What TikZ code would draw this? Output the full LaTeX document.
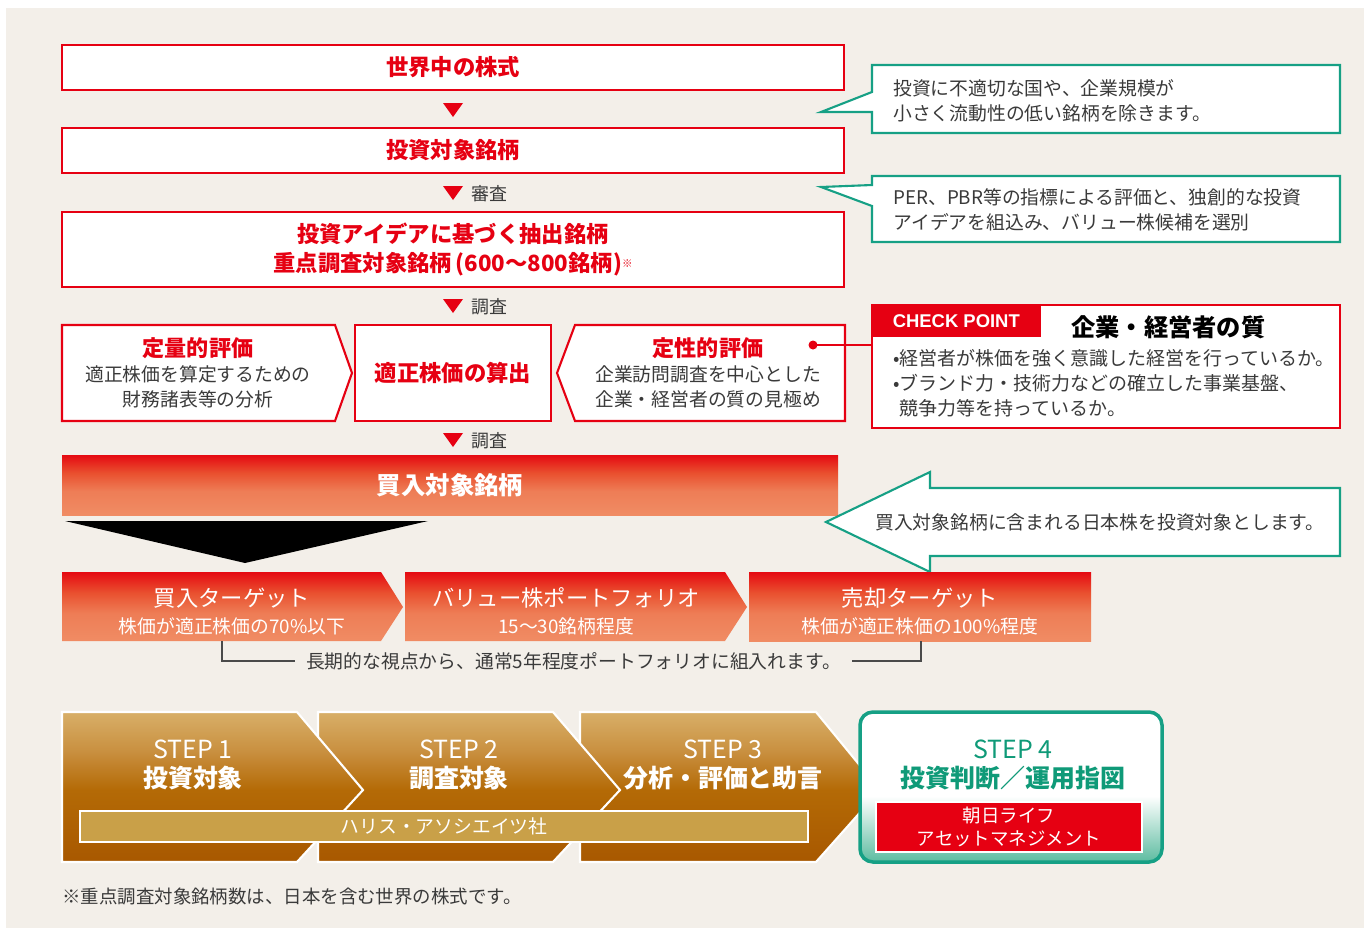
\documentclass[tikz,border=0pt]{standalone}
\usepackage{fontspec}
\setmainfont{Noto Sans CJK JP}
\newfontfamily\checkfont{Liberation Sans}
\usetikzlibrary{positioning}

\definecolor{rouge}{HTML}{E60012}
\definecolor{vert}{HTML}{16A085}
\definecolor{vertfonce}{HTML}{0F9A78}
\definecolor{fond}{HTML}{F3EFE9}
\definecolor{texte}{HTML}{3A3A3A}
\definecolor{gris}{HTML}{4A4A4A}
\definecolor{bande}{HTML}{C9A048}
\definecolor{rougeA}{HTML}{E50A12}
\definecolor{rougeB}{HTML}{E9502F}
\definecolor{rougeC}{HTML}{EE7D56}
\definecolor{rougeD}{HTML}{F08C64}
\definecolor{orA}{HTML}{D8AF68}
\definecolor{orB}{HTML}{C99040}
\definecolor{orC}{HTML}{B46A06}
\definecolor{orD}{HTML}{A85800}
\definecolor{vertbas}{HTML}{5CBCA0}

\pgfdeclareverticalshading{rougegrad}{100bp}{color(0bp)=(rougeD); color(25bp)=(rougeD);
  color(45bp)=(rougeC); color(60bp)=(rougeB); color(75bp)=(rougeA); color(100bp)=(rougeA)}
\pgfdeclareverticalshading{stepgold}{100bp}{color(0bp)=(orD); color(25bp)=(orD);
  color(49bp)=(orC); color(62bp)=(orB); color(75bp)=(orA); color(100bp)=(orA)}
\pgfdeclareverticalshading{vertgrad}{100bp}{color(0bp)=(vertbas); color(25bp)=(vertbas);
  color(47bp)=(white); color(100bp)=(white)}

\newcommand\pxu{0.02cm}

\begin{document}
\begin{tikzpicture}[x=0.02cm, y=-0.02cm,
    cadre/.style={draw=rouge, fill=white, line width=1.2pt, inner sep=0pt},
    titre/.style={text=rouge, font=\bfseries\fontsize{12.7}{17}\selectfont},
    corps/.style={text=texte, font=\fontsize{10.7}{14.2}\selectfont, align=left, inner sep=0pt},
    centre/.style={text=texte, font=\fontsize{10.7}{14.2}\selectfont, align=center, inner sep=0pt},
    bulle/.style={draw=vert, fill=white, line width=1.2pt},
    blanc/.style={text=white, align=center, inner sep=0pt},
    etape/.style={shading=stepgold, draw=white, line width=1.2pt},
    etiquette/.style={text=texte, font=\fontsize{10.2}{12}\selectfont, anchor=west, inner sep=0pt}]

  % Fond
  \useasboundingbox (0,0) rectangle (1370,930);
  \fill[white] (0,0) rectangle (1370,930);
  \fill[fond] (6,8) rectangle (1364,928);

  % Sélection des valeurs
  \node[cadre, titre, minimum width=782*\pxu, minimum height=45*\pxu] (monde) at (453,67.5) {世界中の株式};
  \node[cadre, titre, minimum width=782*\pxu, minimum height=45*\pxu] (invest) at (453,150.5) {投資対象銘柄};
  \node[cadre, titre, align=center, minimum width=782*\pxu, minimum height=75*\pxu] (idee) at (453,249.5)
    {投資アイデアに基づく抽出銘柄\\重点調査対象銘柄\,(600〜800銘柄){\fontsize{6}{6}\selectfont\raisebox{0.8ex}{※}}};

  % Triangles et étiquettes
  \foreach \y in {110,193,306,440}
    \fill[rouge] (453,\y) ++(-10,-7) -- ++(20,0) -- ++(-10,14) -- cycle;
  \node[etiquette] (examen) at (471,194) {審査};
  \node[etiquette] (enquete) at (471,307) {調査};
  \node[etiquette] (enquete2) at (471,441) {調査};

  % Évaluations
  \draw[cadre] (62,325) -- (335,325) -- (352,373) -- (335,421) -- (62,421) -- cycle;
  \node[centre] (quanti) at (198,373)
    {{\color{rouge}\bfseries\fontsize{12.6}{14.2}\selectfont 定量的評価}\\適正株価を算定するための\\財務諸表等の分析};
  \node[cadre, titre, minimum width=196*\pxu, minimum height=96*\pxu] (prix) at (453,373) {適正株価の算出};
  \draw[cadre] (845,325) -- (575,325) -- (557,373) -- (575,421) -- (845,421) -- cycle;
  \node[centre] (quali) at (708,373)
    {{\color{rouge}\bfseries\fontsize{12.6}{14.2}\selectfont 定性的評価}\\企業訪問調査を中心とした\\企業・経営者の質の見極め};

  % Bulles
  \draw[bulle] (872,65) -- (1340,65) -- (1340,133) -- (872,133) -- (872,112) -- (821,112) -- (872,92) -- cycle;
  \node[corps, anchor=west] (exclu) at (893,100.5) {投資に不適切な国や、企業規模が\\小さく流動性の低い銘柄を除きます。};
  \draw[bulle] (872,176) -- (1340,176) -- (1340,242) -- (872,242) -- (872,206) -- (821,187) -- (872,185) -- cycle;
  \node[corps, anchor=west] (valeur) at (893,210) {PER、PBR等の指標による評価と、独創的な投資\\アイデアを組込み、バリュー株候補を選別};

  % Check point
  \node[draw=rouge, fill=white, line width=1.2pt, inner sep=0pt,
        minimum width=468*\pxu, minimum height=123*\pxu] (check) at (1106,366.5) {};
  \node[fill=rouge, text=white, inner sep=0pt, anchor=north west, minimum width=170*\pxu, minimum height=33*\pxu,
        font=\checkfont\bfseries\fontsize{10.5}{12}\selectfont] (cp) at (check.north west) {CHECK POINT};
  \node[font=\bfseries\fontsize{13.8}{16}\selectfont, anchor=west, inner sep=0pt] (qualite) at (1071,327) {企業・経営者の質};
  \node[corps, anchor=west, font=\fontsize{10.8}{14.2}\selectfont] (liste) at (893,383)
    {•経営者が株価を強く意識した経営を行っているか。\\•ブランド力・技術力などの確立した事業基盤、\\\phantom{•}競争力等を持っているか。};
  \coordinate (point) at (813,345);
  \draw[rouge, line width=1.2pt] (point) -- (point -| check.west);
  \fill[rouge] (point) circle (4.5);

  % Valeurs retenues
  \node[shade, shading=rougegrad, inner sep=0pt, minimum width=776*\pxu, minimum height=60*\pxu,
        text=white, font=\bfseries\fontsize{13.9}{16}\selectfont] (achat) at (450,485) {買入対象銘柄};
  \fill[black] (65,521) -- (428,521) -- (245,563) -- cycle;
  \draw[bulle] (1340,488) -- (1340,556) -- (930,556) -- (930,572) -- (826,522) -- (930,472) -- (930,488) -- cycle;
  \node[corps, anchor=west] (japon) at (875,522) {買入対象銘柄に含まれる日本株を投資対象とします。};

  % Portefeuille
  \shade[shading=rougegrad] (62,572) -- (381,572) -- (403,607) -- (381,641) -- (62,641) -- cycle;
  \shade[shading=rougegrad] (405,572) -- (725,572) -- (747,607) -- (725,641) -- (405,641) -- cycle;
  \shade[shading=rougegrad] (749,572) rectangle (1091,641);
  \node[blanc, font=\fontsize{10.7}{15.3}\selectfont] (cible1) at (232,611.5)
    {{\fontsize{12.7}{15.3}\selectfont 買入ターゲット}\\株価が適正株価の70\%以下};
  \node[blanc, font=\fontsize{10.7}{15.3}\selectfont] (ptf) at (566,611.5)
    {{\fontsize{12.7}{15.3}\selectfont バリュー株ポートフォリオ}\\15〜30銘柄程度};
  \node[blanc, font=\fontsize{10.7}{15.3}\selectfont] (cible2) at (920,611.5)
    {{\fontsize{12.7}{15.3}\selectfont 売却ターゲット}\\株価が適正株価の100\%程度};
  \node[text=texte, font=\fontsize{10.7}{13}\selectfont, inner xsep=6pt] (duree) at (573.5,661)
    {長期的な視点から、通常5年程度ポートフォリオに組入れます。};
  \coordinate (b1) at (222,641);
  \coordinate (b2) at (921,641);
  \draw[gris, line width=0.7pt] (b1) |- (duree.west);
  \draw[gris, line width=0.7pt] (b2) |- (duree.east);

  % Étapes
  \foreach \a/\b/\c in {580/816/880, 318/553/620, 62/297/363}
    \shadedraw[etape] (\a,712) -- (\b,712) -- (\c,790) -- (\b,862) -- (\a,862) -- cycle;
  \node[blanc, font=\fontsize{14.2}{17}\selectfont] (etape1) at (193,765) {STEP 1\\\bfseries 投資対象};
  \node[blanc, font=\fontsize{14.2}{17}\selectfont] (etape2) at (459,765) {STEP 2\\\bfseries 調査対象};
  \node[blanc, font=\fontsize{14.2}{17}\selectfont] (etape3) at (723,765) {STEP 3\\\bfseries 分析・評価と助言};
  \node[fill=bande, draw=white, line width=1pt, minimum width=728*\pxu, minimum height=31*\pxu, inner sep=0pt,
        text=white, font=\fontsize{10.7}{12}\selectfont] (harris) at (444,826.5) {ハリス・アソシエイツ社};
  \node[shade, shading=vertgrad, draw=vert, line width=2pt, rounded corners=0.26cm,
        minimum width=302*\pxu, minimum height=150*\pxu] (etape4) at (1011,787) {};
  \node[align=center, inner sep=0pt, text=vertfonce, font=\fontsize{14.2}{17}\selectfont] (decision) at (1013,765)
    {STEP 4\\\bfseries 投資判断／運用指図};
  \node[fill=rouge, draw=white, line width=0.8pt, minimum width=266*\pxu, minimum height=50*\pxu, inner sep=0pt,
        blanc, font=\fontsize{10.5}{13}\selectfont] (asset) at (1009,827) {朝日ライフ\\アセットマネジメント};

  % Note
  \node[text=texte, anchor=west, inner sep=0pt, font=\fontsize{10.5}{12}\selectfont] (note) at (62,896)
    {※重点調査対象銘柄数は、日本を含む世界の株式です。};
\end{tikzpicture}
\end{document}
